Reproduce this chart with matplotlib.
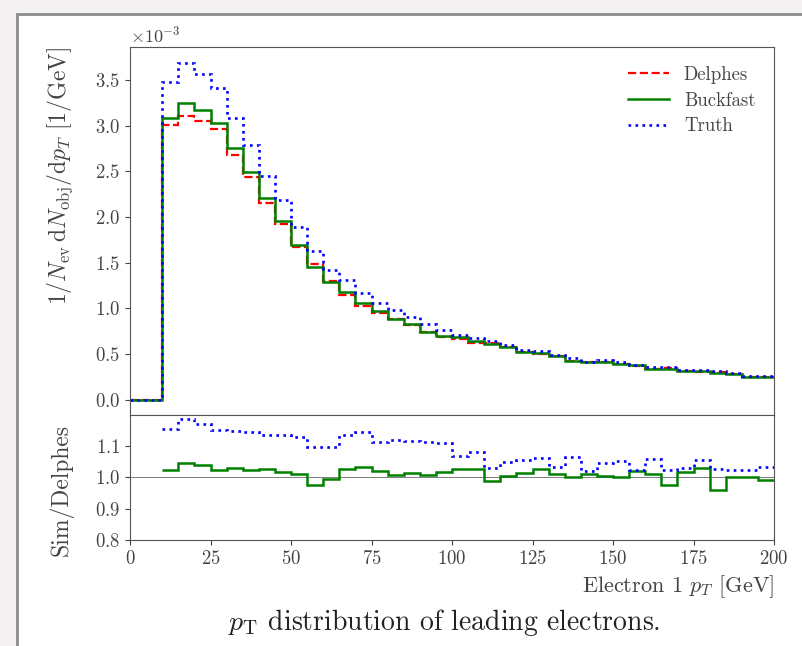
import matplotlib
matplotlib.use("Agg")
import matplotlib.pyplot as plt
from matplotlib.patches import Rectangle
import numpy as np

plt.rcParams['font.family'] = 'serif'
plt.rcParams['font.serif'] = ['cmr10']
plt.rcParams['mathtext.fontset'] = 'cm'
plt.rcParams['axes.formatter.use_mathtext'] = True
plt.rcParams['axes.unicode_minus'] = False

# 5 GeV bins from 0 to 200, values in units of 1e-3 / GeV
edges = np.arange(0, 205, 5)
delphes = [0, 0, 3.010, 3.100, 3.050, 2.960, 2.680, 2.435, 2.150, 1.925,
           1.670, 1.487, 1.298, 1.150, 1.025, 0.948, 0.880, 0.815, 0.740, 0.686,
           0.665, 0.625, 0.622, 0.575, 0.521, 0.503, 0.476, 0.429, 0.411, 0.414,
           0.396, 0.372, 0.335, 0.347, 0.315, 0.305, 0.304, 0.288, 0.255, 0.250]
buckfast = [0, 0, 3.078, 3.246, 3.172, 3.034, 2.760, 2.496, 2.206, 1.956,
            1.690, 1.453, 1.290, 1.180, 1.061, 0.968, 0.887, 0.826, 0.746, 0.699,
            0.683, 0.641, 0.616, 0.577, 0.528, 0.516, 0.481, 0.430, 0.416, 0.416,
            0.397, 0.380, 0.339, 0.339, 0.321, 0.314, 0.292, 0.288, 0.255, 0.248]
truth = [0, 0, 3.477, 3.680, 3.569, 3.413, 3.079, 2.791, 2.445, 2.189,
         1.887, 1.633, 1.425, 1.308, 1.173, 1.057, 0.985, 0.910, 0.825, 0.761,
         0.711, 0.676, 0.641, 0.603, 0.551, 0.535, 0.492, 0.457, 0.420, 0.433,
         0.417, 0.381, 0.355, 0.355, 0.325, 0.322, 0.312, 0.295, 0.261, 0.2585]

delphes = np.array(delphes) * 1e-3
buckfast = np.array(buckfast) * 1e-3
truth = np.array(truth) * 1e-3

fig = plt.figure(figsize=(8.02, 6.46), dpi=100, facecolor='#f3f1f1')
# white page frame behind the chart
fig.patches.append(Rectangle((17 / 802, -0.1), 1.2, 1 - 14 / 646 + 0.1,
                             transform=fig.transFigure, facecolor='white',
                             edgecolor='#8c8c8c', linewidth=2.0, zorder=-10))

ax = fig.add_axes([130 / 802, 1 - 415 / 646, 644 / 802, 368 / 646])
rax = fig.add_axes([130 / 802, 1 - 540 / 646, 644 / 802, 125 / 646], sharex=ax)

txt = '#444444'
for a in (ax, rax):
    for s in a.spines.values():
        s.set_color('#555555')
    a.tick_params(colors=txt, labelsize=13.5, direction='out')

ax.stairs(delphes, edges, baseline=None, color='red', ls='--', lw=1.6, label='Delphes')
ax.stairs(buckfast, edges, baseline=None, color='green', ls='-', lw=1.8, label='Buckfast')
ax.stairs(truth, edges, baseline=None, color='blue', ls=':', lw=1.9, label='Truth')

ax.set_xlim(0, 200)
ax.set_ylim(-0.165e-3, 3.86e-3)
ax.set_yticks(np.arange(0, 3.6e-3, 0.5e-3))
ax.ticklabel_format(axis='y', style='sci', scilimits=(0, 0))
ax.yaxis.get_offset_text().set_fontsize(13)
ax.yaxis.get_offset_text().set_color(txt)
ax.tick_params(axis='x', bottom=False, labelbottom=False)
ax.set_ylabel(r'$1/N_\mathrm{ev}\,\mathrm{d}N_\mathrm{obj}/\mathrm{d}p_T$ [1/GeV]',
              fontsize=17, color=txt, loc='top')
ax.yaxis.set_label_coords(-0.085, 1.0)
leg = ax.legend(loc='upper right', frameon=False, fontsize=13.5,
                handlelength=2.2, labelspacing=0.42, borderaxespad=0.6)
for t in leg.get_texts():
    t.set_color(txt)

valid = delphes > 0
r_edges = edges[np.concatenate([valid, [True]])]
rax.stairs(buckfast[valid] / delphes[valid], r_edges, baseline=None,
           color='green', ls='-', lw=1.8)
rax.stairs(truth[valid] / delphes[valid], r_edges, baseline=None,
           color='blue', ls=':', lw=1.9)
rax.axhline(1.0, color='#666666', lw=0.6, zorder=0)
rax.set_ylim(0.8, 1.2)
rax.set_yticks([0.8, 0.9, 1.0, 1.1])
rax.set_xticks(np.arange(0, 201, 25))
rax.set_ylabel('Sim/Delphes', fontsize=17, color=txt)
rax.yaxis.set_label_coords(-0.088, 0.4)
rax.set_xlabel(r'Electron 1 $p_T$ [GeV]', fontsize=16, color=txt, loc='right')

fig.text(444 / 802, 1 - 622 / 646, r'$p_\mathrm{T}$ distribution of leading electrons.',
         ha='center', va='center', fontsize=20, color='#222222')

fig.savefig('out.png', dpi=100, facecolor=fig.get_facecolor())
